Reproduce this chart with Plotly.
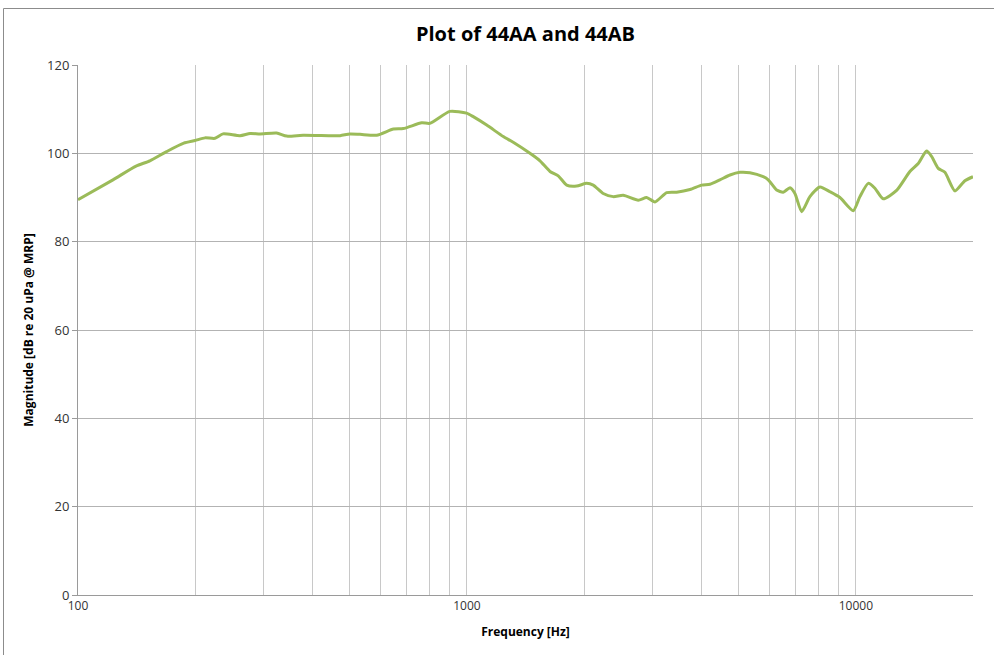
import plotly.graph_objects as go

freq_hz = [100, 123, 141, 153, 169, 187, 200, 212, 225, 236, 261, 277, 294, 324, 344, 379,
           444, 472, 500, 531, 586, 647, 686, 765, 803, 904, 998, 1038, 1124, 1240, 1315,
           1452, 1541, 1635, 1717, 1805, 1914, 2031, 2112, 2240, 2377, 2522, 2757, 2897,
           3043, 3262, 3460, 3746, 4012, 4214, 4470, 4746, 5034, 5340, 5777, 5951, 6254,
           6503, 6766, 6969, 7253, 7616, 8083, 8577, 9097, 9843, 10240, 10755, 11190,
           11753, 12723, 13765, 14464, 15198, 15654, 16280, 16936, 17968, 19063, 20000]
magnitude_db = [89.5, 94.0, 97.1, 98.3, 100.4, 102.3, 102.9, 103.5, 103.4, 104.4, 104.0, 104.5,
                104.4, 104.6, 103.9, 104.1, 104.0, 104.0, 104.4, 104.3, 104.1, 105.5, 105.6,
                106.9, 106.8, 109.5, 109.1, 108.3, 106.4, 103.8, 102.5, 100.0, 98.3, 95.9,
                94.9, 92.8, 92.6, 93.2, 92.8, 90.9, 90.2, 90.5, 89.4, 90.0, 89.0, 91.1, 91.2,
                91.8, 92.8, 93.0, 94.0, 95.1, 95.7, 95.6, 94.7, 94.0, 91.7, 91.2, 92.2, 90.9,
                86.8, 90.2, 92.4, 91.3, 90.0, 87.0, 90.2, 93.2, 92.1, 89.7, 91.6, 95.9, 97.7,
                100.5, 99.3, 96.6, 95.7, 91.5, 93.8, 94.7]

grid_freqs = [100, 200, 300, 400, 500, 600, 700, 800, 900, 1000, 2000, 3000, 4000, 5000,
              6000, 7000, 8000, 9000, 10000, 20000]
decade_labels = {100: "100", 1000: "1000", 10000: "10000"}
y_ticks = [0, 20, 40, 60, 80, 100, 120]

font_family = "Open Sans, Liberation Sans, sans-serif"

fig = go.Figure()
fig.add_trace(go.Scatter(
    x=freq_hz, y=magnitude_db, mode="lines",
    line=dict(color="#9BBB59", width=3, shape="spline", smoothing=0.6),
    showlegend=False,
))

fig.update_layout(
    width=994, height=655,
    margin=dict(l=78, r=21, t=65, b=60),
    paper_bgcolor="white", plot_bgcolor="white",
    font=dict(family=font_family, color="#333333", size=12),
    title=dict(text="<b>Plot of 44AA and 44AB</b>", x=0.5, xref="paper", xanchor="center",
               y=1 - 34 / 655, yanchor="middle",
               font=dict(size=20, color="#000000", family=font_family)),
    xaxis=dict(
        type="log", range=[2, 4.30103],
        tickvals=grid_freqs,
        ticktext=[decade_labels.get(f, "") for f in grid_freqs],
        showgrid=True, gridcolor="#C8C8C8", gridwidth=1,
        showline=True, linecolor="#9A9A9A", linewidth=1,
        ticks="", tickfont=dict(size=12, color="#333333"),
        title=dict(text="<b>Frequency [Hz]</b>", font=dict(size=12, color="#000000"), standoff=14),
        zeroline=False,
    ),
    yaxis=dict(
        range=[0, 120], tickvals=y_ticks,
        showgrid=True, gridcolor="#B3B3B3", gridwidth=1,
        showline=True, linecolor="#9A9A9A", linewidth=1,
        ticks="outside", ticklen=5, tickcolor="#9A9A9A",
        tickfont=dict(size=13, color="#333333"),
        title=dict(text="<b>Magnitude [dB re 20 uPa @ MRP]</b>", font=dict(size=12, color="#000000"), standoff=10),
        zeroline=False,
    ),
    shapes=[dict(type="rect", xref="paper", yref="paper",
                 x0=(3.5 - 78) / 895, x1=1.2, y0=-0.3, y1=1 + (65 - 8.5) / 530,
                 line=dict(color="#8C8C8C", width=1), fillcolor="rgba(0,0,0,0)", layer="below")],
)

fig.write_html("out.html", config={"displayModeBar": False},
               post_script="document.body.style.margin='0';")
